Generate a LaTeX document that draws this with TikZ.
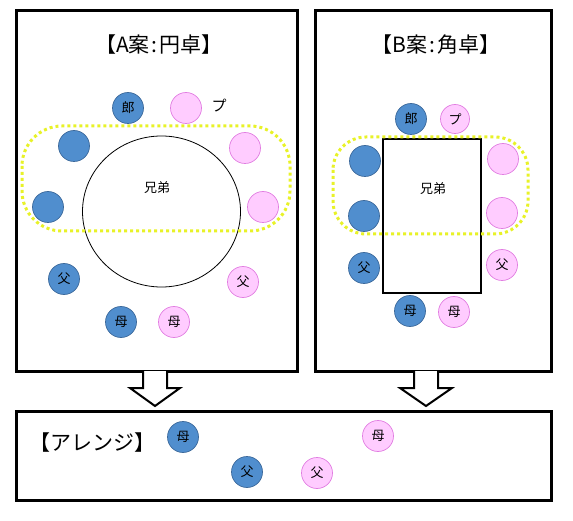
\documentclass[tikz,border=0pt]{standalone}
\usepackage{fontspec}
\usetikzlibrary{calc}
\setmainfont{Noto Sans CJK JP}
\definecolor{seatblue}{RGB}{80,142,206}
\definecolor{seatblueline}{RGB}{60,105,155}
\definecolor{seatpink}{RGB}{255,204,255}
\definecolor{seatpinkline}{RGB}{225,125,225}
\definecolor{dotyellow}{RGB}{232,242,40}
\tikzset{
  panel/.style={draw=black, line width=3pt},
  bseat/.style={circle, draw=seatblueline, fill=seatblue, line width=0.7pt, minimum size=31pt, inner sep=0pt, font=\fontsize{13}{13}\selectfont},
  pseat/.style={circle, draw=seatpinkline, fill=seatpink, line width=0.7pt, minimum size=31pt, inner sep=0pt, font=\fontsize{13}{13}\selectfont},
  title/.style={font=\fontsize{21}{21}\selectfont, inner sep=0pt},
  small/.style={font=\fontsize{13}{13}\selectfont, inner sep=0pt},
  yellowdots/.style={draw=dotyellow, line width=3pt, dash pattern=on 3pt off 3pt},
  blockarrow/.style={draw=black, fill=white, line width=2pt, line join=miter},
}
\begin{document}
\begin{tikzpicture}[x=1pt,y=-1pt]
\useasboundingbox (0,0) rectangle (573,521);
% panels
\draw[panel] (16,11) rectangle (297,371);
\draw[panel] (315,11) rectangle (551,371);
\draw[panel] (16,411) rectangle (551,500);
\coordinate (Abot) at (155,371);
\coordinate (Bbot) at (426,371);
% titles
\node[title] (tA) at (159,45) {【A案\kern2pt:\kern2pt円卓】};
\node[title] (tB) at (436,45) {【B案\kern2pt:\kern2pt角卓】};
\node[title, anchor=west] (tC) at (29,443) {【アレンジ】};
% panel A
\draw[line width=0.8pt] (161.5,211.5) ellipse [x radius=79, y radius=75.5];
\node[small] (kyA) at (157,188) {兄弟};
\node[bseat] (roA) at (128,108) {郎};
\node[pseat] (puA) at (186,108) {};
\node[font=\fontsize{15}{15}\selectfont, inner sep=0pt] (puAt) at (219,106) {プ};
\node[bseat] (b1A) at (74,146) {};
\node[pseat] (p1A) at (245,148) {};
\node[bseat] (b2A) at (48,207) {};
\node[pseat] (p2A) at (263,207) {};
\node[bseat] (fbA) at (64,279) {父};
\node[pseat] (fpA) at (243,282) {父};
\node[bseat] (mbA) at (121,322) {母};
\node[pseat] (mpA) at (174,322) {母};
\draw[yellowdots, rounded corners=40pt] (22,126) rectangle (290,231);
% panel B
\draw[line width=2pt, fill=white] (383,139) rectangle (481,293);
\node[small] (kyB) at (433,189) {兄弟};
\node[bseat] (roB) at (411,119) {郎};
\node[pseat, minimum size=29pt] (puB) at (455,119) {プ};
\node[bseat] (b1B) at (365,161) {};
\node[pseat] (p1B) at (503,159) {};
\node[bseat] (b2B) at (364,216) {};
\node[pseat] (p2B) at (502,213) {};
\node[bseat] (fbB) at (364,268) {父};
\node[pseat] (fpB) at (502,265) {父};
\node[bseat] (mbB) at (410,311) {母};
\node[pseat] (mpB) at (454,312) {母};
\draw[yellowdots, rounded corners=33pt] (333,137) rectangle (528,234);
% arrangement
\node[bseat] (mbC) at (183,437) {母};
\node[pseat] (mpC) at (378,436) {母};
\node[bseat] (fbC) at (247,472) {父};
\node[pseat] (fpC) at (317,473) {父};
% block arrows
\draw[blockarrow] ($(Abot)+(-12,0)$) -- ($(Abot)+(-12,17)$) -- ($(Abot)+(-25,17)$) -- ($(Abot)+(0,35)$) -- ($(Abot)+(25,17)$) -- ($(Abot)+(12,17)$) -- ($(Abot)+(12,0)$);
\draw[blockarrow] ($(Bbot)+(-12,0)$) -- ($(Bbot)+(-12,17)$) -- ($(Bbot)+(-26,17)$) -- ($(Bbot)+(0,35)$) -- ($(Bbot)+(26,17)$) -- ($(Bbot)+(12,17)$) -- ($(Bbot)+(12,0)$);
\end{tikzpicture}
\end{document}
